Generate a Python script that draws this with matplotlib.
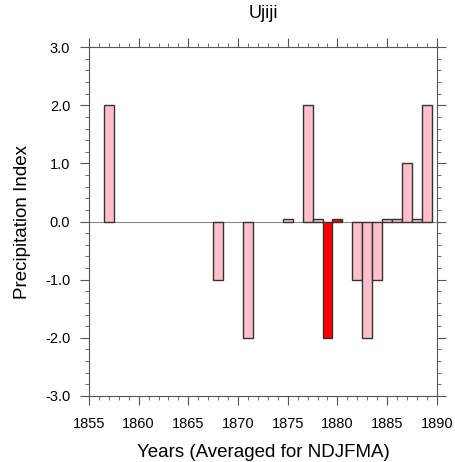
import matplotlib
matplotlib.use("Agg")
import matplotlib.pyplot as plt
from matplotlib.ticker import MultipleLocator, FormatStrFormatter

years = [1857, 1868, 1871, 1875, 1877, 1878, 1879, 1880, 1882, 1883, 1884, 1885, 1886, 1887, 1888, 1889]
values = [2.0, -1.0, -2.0, 0.05, 2.0, 0.05, -2.0, 0.05, -1.0, -2.0, -1.0, 0.05, 0.05, 1.0, 0.05, 2.0]
highlight_years = [1879, 1880]

plt.rcParams['font.family'] = ['Liberation Sans', 'DejaVu Sans']

fig = plt.figure(figsize=(4.56, 4.62), dpi=100)
ax = fig.add_axes([0.195, 0.143, 0.763, 0.755])

colors = ['#ff0000' if y in highlight_years else '#ffc0cb' for y in years]
ax.bar(years, values, width=1.0, color=colors, edgecolor='#333333', linewidth=1.0, zorder=3)
ax.axhline(0, color='#888888', linewidth=0.8, zorder=2)

ax.set_xlim(1855, 1890)
ax.set_ylim(-3, 3)
ax.xaxis.set_major_locator(MultipleLocator(5))
ax.xaxis.set_minor_locator(MultipleLocator(1))
ax.yaxis.set_major_locator(MultipleLocator(1))
ax.yaxis.set_minor_locator(MultipleLocator(0.2))
ax.yaxis.set_major_formatter(FormatStrFormatter('%.1f'))

ax.tick_params(which='both', direction='out', top=True, right=True, color='#555555', labelsize=10.5)
ax.tick_params(which='major', length=6.5, width=0.8)
ax.tick_params(which='minor', length=3.2, width=0.6)
ax.tick_params(axis='x', which='major', pad=9)
ax.tick_params(axis='y', which='major', pad=7)
for s in ax.spines.values():
    s.set_color('#555555')
    s.set_linewidth(0.8)

ax.set_xlabel('Years (Averaged for NDJFMA)', fontsize=13.5, labelpad=9)
ax.set_ylabel('Precipitation Index', fontsize=13.5, labelpad=10)
ax.set_title('Ujiji', fontsize=13, pad=21)

fig.savefig('out.png', dpi=100)
